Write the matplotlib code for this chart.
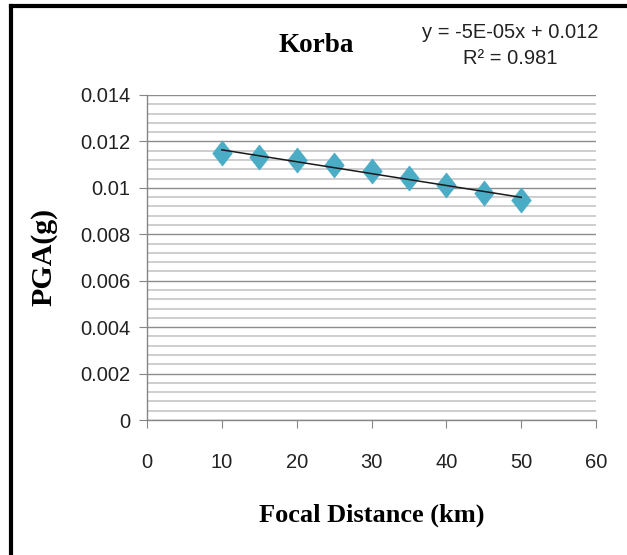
import matplotlib
matplotlib.use('Agg')
import numpy as np
import matplotlib.pyplot as plt
from matplotlib.ticker import MultipleLocator
from matplotlib.lines import Line2D
from matplotlib.path import Path

distance_km = [10, 15, 20, 25, 30, 35, 40, 45, 50]
pga_g = [0.01150, 0.01133, 0.01118, 0.01098, 0.01072, 0.01042, 0.01012, 0.00980, 0.00948]
x_ticks = [0, 10, 20, 30, 40, 50, 60]
y_ticks = [0, 0.002, 0.004, 0.006, 0.008, 0.01, 0.012, 0.014]
y_tick_labels = ['0', '0.002', '0.004', '0.006', '0.008', '0.01', '0.012', '0.014']

W, H = 627, 555
fig = plt.figure(figsize=(W/100, H/100), dpi=100)
ax = fig.add_axes([147/W, 1-420/H, (596-147)/W, (420-95)/H])

# Excel diamond is a bit taller than wide
diamond = Path([(0, 1), (0.78, 0), (0, -1), (-0.78, 0), (0, 1)],
               [Path.MOVETO, Path.LINETO, Path.LINETO, Path.LINETO, Path.CLOSEPOLY])

# linear trendline
slope, icpt = np.polyfit(distance_km, pga_g, 1)
xs = np.array([distance_km[0], distance_km[-1]])
ax.plot(xs, slope*xs + icpt, color='#1a1a1a', lw=1.1, zorder=3)
ax.plot(distance_km, pga_g, linestyle='none', marker=diamond, markersize=18,
        color='#4BACC6', markeredgecolor='#4BACC6', markeredgewidth=0.5, zorder=2.5)

ax.set_xlim(0, 60)
ax.set_ylim(0, 0.014)
ax.set_xticks(x_ticks)
ax.set_yticks(y_ticks)
ax.set_yticklabels(y_tick_labels)
ax.yaxis.set_minor_locator(MultipleLocator(0.0004))
ax.grid(which='major', axis='y', color='#8c8c8c', lw=1.0)
ax.grid(which='minor', axis='y', color='#c6c6c6', lw=1.2)
ax.set_axisbelow(True)

for s in ['top', 'right']:
    ax.spines[s].set_visible(False)
for s in ['left', 'bottom']:
    ax.spines[s].set_color('#868686')
    ax.spines[s].set_linewidth(1.0)
ax.tick_params(which='major', direction='out', length=6, color='#868686',
               labelsize=14.5, labelcolor='#222222', pad=6)
ax.tick_params(axis='x', pad=18)
ax.tick_params(which='minor', length=0)
for lab in ax.get_xticklabels() + ax.get_yticklabels():
    lab.set_fontfamily('Liberation Sans')

serif = 'Liberation Serif'
fig.text(316/W, 1-46/H, 'Korba', ha='center', va='center', fontsize=19.5,
         fontweight='bold', family=serif)
fig.text(510/W, 1-33/H, 'y = -5E-05x + 0.012', ha='center', va='center',
         fontsize=14.5, family='Liberation Sans', color='#222222')
fig.text(510/W, 1-59/H, 'R\u00b2 = 0.981', ha='center', va='center',
         fontsize=14.5, family='Liberation Sans', color='#222222')
fig.text(44/W, 1-257/H, 'PGA(g)', ha='center', va='center', rotation=90,
         fontsize=21.5, fontweight='bold', family=serif)
fig.text(372/W, 1-515/H, 'Focal Distance (km)', ha='center', va='center',
         fontsize=19, fontweight='bold', family=serif)

# black frame on top and left edges
fig.add_artist(Line2D([11/W, 11/W], [0, 1-6/H], color='black', lw=3,
                      transform=fig.transFigure))
fig.add_artist(Line2D([11/W, 1], [1-6/H, 1-6/H], color='black', lw=3,
                      transform=fig.transFigure))

fig.savefig('out.png', dpi=100)
